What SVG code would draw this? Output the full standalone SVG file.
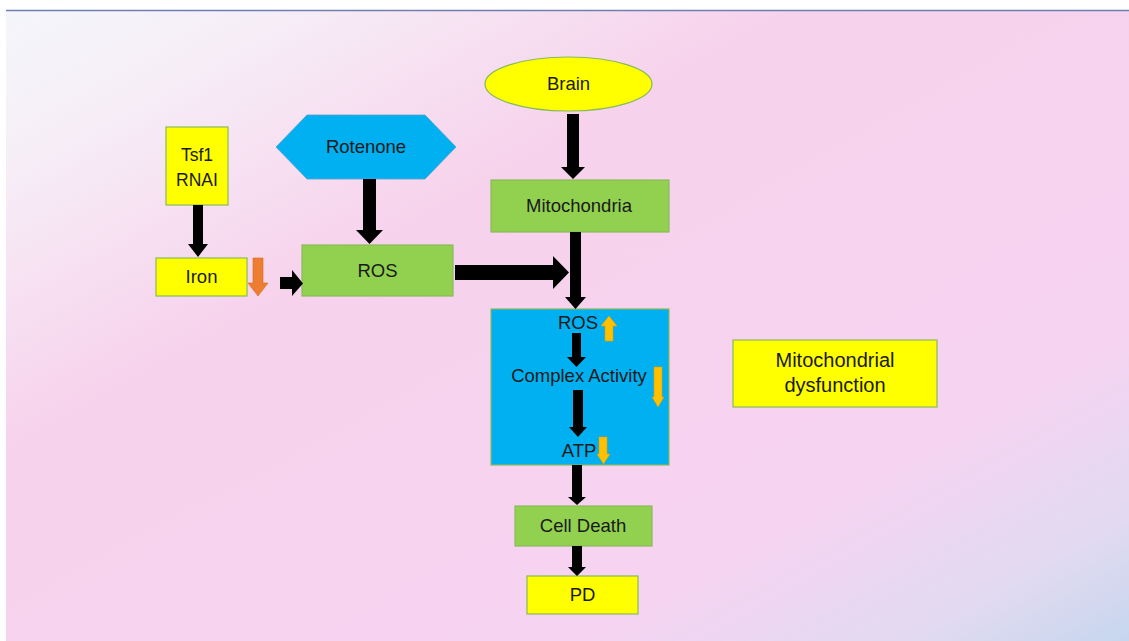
<svg xmlns="http://www.w3.org/2000/svg" width="1129" height="641" viewBox="0 0 1129 641">
<defs>
<linearGradient id="bg" x1="0" y1="0" x2="1" y2="1">
<stop offset="0" stop-color="#f4f6fb"/>
<stop offset="0.12" stop-color="#f6eef7"/>
<stop offset="0.35" stop-color="#f7d2ec"/>
<stop offset="0.75" stop-color="#f6d3f1"/>
<stop offset="0.9" stop-color="#e2daf1"/>
<stop offset="1" stop-color="#c6d6ee"/>
</linearGradient>
<style>
.box{stroke:#8ab95a;stroke-width:1.2}
.y{fill:#ffff00}
.g{fill:#92d050}
.b{fill:#00b0f0}
.t{font-family:"Liberation Sans",Arial,sans-serif;font-size:18.5px;fill:#1a1a1a;text-anchor:middle}
.blk{fill:#000}
.org{fill:#ffc000;stroke:#e0a000;stroke-width:0.6}
.org2{fill:#ed7d31;stroke:#d86a20;stroke-width:0.6}
</style>
</defs>
<rect x="0" y="0" width="1129" height="641" fill="#ffffff"/>
<rect x="6" y="10" width="1123" height="631" fill="url(#bg)"/>
<line x1="6" y1="10.5" x2="1129" y2="10.5" stroke="#6f7fae" stroke-width="1.5"/>

<g id="tsf1">
<rect class="box y" x="166" y="127" width="62" height="78"/>
<text class="t" x="197" y="161" style="font-size:17.5px">Tsf1</text>
<text class="t" x="197" y="186" style="font-size:17.5px">RNAI</text>
</g>
<g id="iron">
<rect class="box y" x="156" y="258" width="91" height="38"/>
<text class="t" x="201.5" y="283">Iron</text>
</g>
<g id="rotenone">
<polygon class="b" points="276,147 307,115 425,115 456,147 425,179 307,179" stroke="#5aa0c8" stroke-width="0.8"/>
<text class="t" x="366" y="153">Rotenone</text>
</g>
<g id="ros">
<rect class="box g" x="302" y="245" width="151" height="51"/>
<text class="t" x="377.5" y="277">ROS</text>
</g>
<g id="brain">
<ellipse class="box y" cx="568.5" cy="84" rx="83.5" ry="27"/>
<text class="t" x="568.5" y="90">Brain</text>
</g>
<g id="mitochondria">
<rect class="box g" x="491" y="180" width="178" height="52"/>
<text class="t" x="579" y="212">Mitochondria</text>
</g>
<g id="mito-box">
<rect class="box b" x="491" y="309" width="178" height="156"/>
<text class="t" x="578" y="329">ROS</text>
<text class="t" x="579" y="382">Complex Activity</text>
<text class="t" x="579" y="457">ATP</text>
</g>
<g id="cell-death">
<rect class="box g" x="515" y="506" width="137" height="40"/>
<text class="t" x="583" y="532">Cell Death</text>
</g>
<g id="pd">
<rect class="box y" x="527" y="576" width="111" height="38"/>
<text class="t" x="582.5" y="601">PD</text>
</g>
<g id="mito-dysfunction">
<rect class="box y" x="733" y="340" width="204" height="67"/>
<text class="t" x="835" y="367" style="font-size:20px">Mitochondrial</text>
<text class="t" x="835" y="392" style="font-size:20px">dysfunction</text>
</g>

<g id="connectors">
<polygon class="blk" points="567,114 579,114 579,167 585,167 573,179 561,167 567,167"/>
<polygon class="blk" points="570,232 581,232 581,297 586,297 575.5,309 565,297 570,297"/>
<polygon class="blk" points="455,265 553,265 553,256 569,272.5 553,289 553,280 455,280"/>
<polygon class="blk" points="193,205 203,205 203,244 208,244 198,257 188,244 193,244"/>
<polygon class="blk" points="363,179 376,179 376,230 383,230 369.5,244 356,230 363,230"/>
<polygon class="blk" points="280,277 292,277 292,270 303,283.5 292,296 292,289 280,289"/>
<polygon class="blk" points="572,333 581,333 581,357 586,357 576.5,367 567,357 572,357"/>
<polygon class="blk" points="573,390 583,390 583,427 587,427 578,437 569,427 573,427"/>
<polygon class="blk" points="572,465 582,465 582,497 586,497 577,505 568,497 572,497"/>
<polygon class="blk" points="572,546 582,546 582,567 586,567 577,576 568,567 572,567"/>
<polygon class="org2" points="253,258 263,258 263,283 268,283 258,296 248,283 253,283"/>
<polygon class="org" points="605,341 613,341 613,326 617,326 609,316 601,326 605,326"/>
<polygon class="org" points="654,367 662,367 662,397 664,397 658,407 652,397 654,397"/>
<polygon class="org" points="599,437 607,437 607,454 610,454 603.5,464 597,454 599,454"/>
</g>
</svg>
